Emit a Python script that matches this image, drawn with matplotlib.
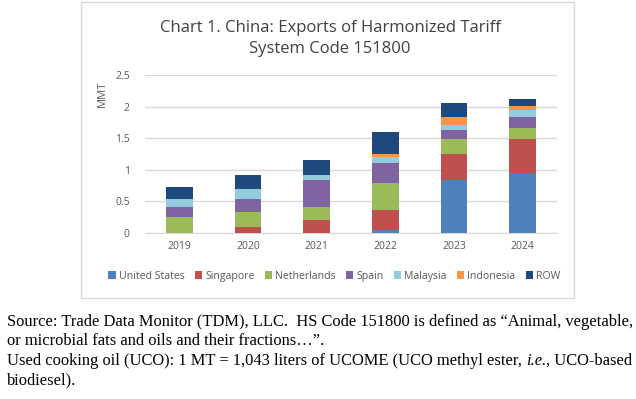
import matplotlib.pyplot as plt
from matplotlib.patches import Rectangle
import numpy as np

# --------------------------
# data (MMT)
# --------------------------
years = ["2019", "2020", "2021", "2022", "2023", "2024"]
united_states = [0.0, 0.0, 0.0, 0.05, 0.835, 0.95]
singapore = [0.0, 0.085, 0.195, 0.31, 0.405, 0.535]
netherlands = [0.255, 0.245, 0.215, 0.42, 0.25, 0.175]
spain = [0.145, 0.205, 0.425, 0.325, 0.14, 0.17]
malaysia = [0.13, 0.155, 0.08, 0.10, 0.075, 0.115]
indonesia = [0.0, 0.0, 0.0, 0.045, 0.13, 0.065]
row = [0.195, 0.225, 0.235, 0.34, 0.22, 0.11]

series = [
    ("United States", united_states, "#4F81BD"),
    ("Singapore", singapore, "#C0504D"),
    ("Netherlands", netherlands, "#9BBB59"),
    ("Spain", spain, "#8064A2"),
    ("Malaysia", malaysia, "#93CDDD"),
    ("Indonesia", indonesia, "#F79646"),
    ("ROW", row, "#1F497D"),
]

plt.rcParams['font.family'] = ['Open Sans', 'DejaVu Sans']

fig = plt.figure(figsize=(6.36, 3.99), dpi=100)
fig.patch.set_facecolor("white")

# chart frame like the Excel chart box
fig.patches.append(Rectangle((81 / 636, 1 - 298 / 399), (574 - 81) / 636, 296 / 399,
                             transform=fig.transFigure, fill=False,
                             edgecolor="#D9D9D9", linewidth=1))

ax = fig.add_axes([145 / 636, 1 - 232.7 / 399, 412 / 636, 157.7 / 399])

x = np.arange(len(years))
bottom = np.zeros(len(years))
for name, vals, col in series:
    ax.bar(x, vals, 0.39, bottom=bottom, color=col, label=name, zorder=3)
    bottom += np.array(vals)

ax.set_xlim(-0.5, 5.5)
ax.set_ylim(0, 2.5)
ax.set_yticks([0, 0.5, 1, 1.5, 2, 2.5])
ax.set_yticklabels(["0", "0.5", "1", "1.5", "2", "2.5"])
ax.set_xticks(x)
ax.set_xticklabels(years)
ax.tick_params(length=0, labelsize=7.5, colors="#595959", pad=6)
ax.tick_params(axis="y", pad=11)
ax.grid(axis="y", color="#D9D9D9", linewidth=1, zorder=0)
for s in ["top", "right", "left"]:
    ax.spines[s].set_visible(False)
ax.spines["bottom"].set_color("#D9D9D9")

ax.set_ylabel("MMT", fontsize=8, color="#595959")
ax.yaxis.set_label_coords(-0.09, 0.88)

fig.text(330 / 636, 1 - 28 / 399, "Chart 1. China: Exports of Harmonized Tariff",
         ha="center", va="center", fontsize=12, color="#404040")
fig.text(330 / 636, 1 - 49 / 399, "System Code 151800",
         ha="center", va="center", fontsize=12, color="#404040")

ax.legend(loc="center", bbox_to_anchor=(0.46, -0.275), ncol=7, frameon=False,
          fontsize=7.6, handlelength=0.7, handleheight=0.7, handletextpad=0.3,
          columnspacing=0.95, labelcolor="#595959")

# source notes under the chart
serif = "Liberation Serif"
fs = 11.85
fig.text(7 / 636, 1 - 322 / 399,
         "Source: Trade Data Monitor (TDM), LLC.  HS Code 151800 is defined as \u201cAnimal, vegetable,",
         family=serif, fontsize=fs, va="center")
fig.text(7 / 636, 1 - 341 / 399,
         "or microbial fats and oils and their fractions\u2026\u201d.",
         family=serif, fontsize=fs, va="center")
t1 = fig.text(7 / 636, 1 - 361 / 399,
              "Used cooking oil (UCO): 1 MT = 1,043 liters of UCOME (UCO methyl ester, ",
              family=serif, fontsize=fs, va="center")
fig.text(7 / 636, 1 - 380 / 399, "biodiesel).", family=serif, fontsize=fs, va="center")

r = fig.canvas.get_renderer()
bb = t1.get_window_extent(r)
t2 = fig.text(bb.x1 / fig.bbox.width, 1 - 361 / 399, "i.e.",
              family=serif, fontsize=fs, style="italic", va="center")
bb2 = t2.get_window_extent(r)
fig.text(bb2.x1 / fig.bbox.width, 1 - 361 / 399, ", UCO-based",
         family=serif, fontsize=fs, va="center")

fig.savefig("out.png", dpi=100)
